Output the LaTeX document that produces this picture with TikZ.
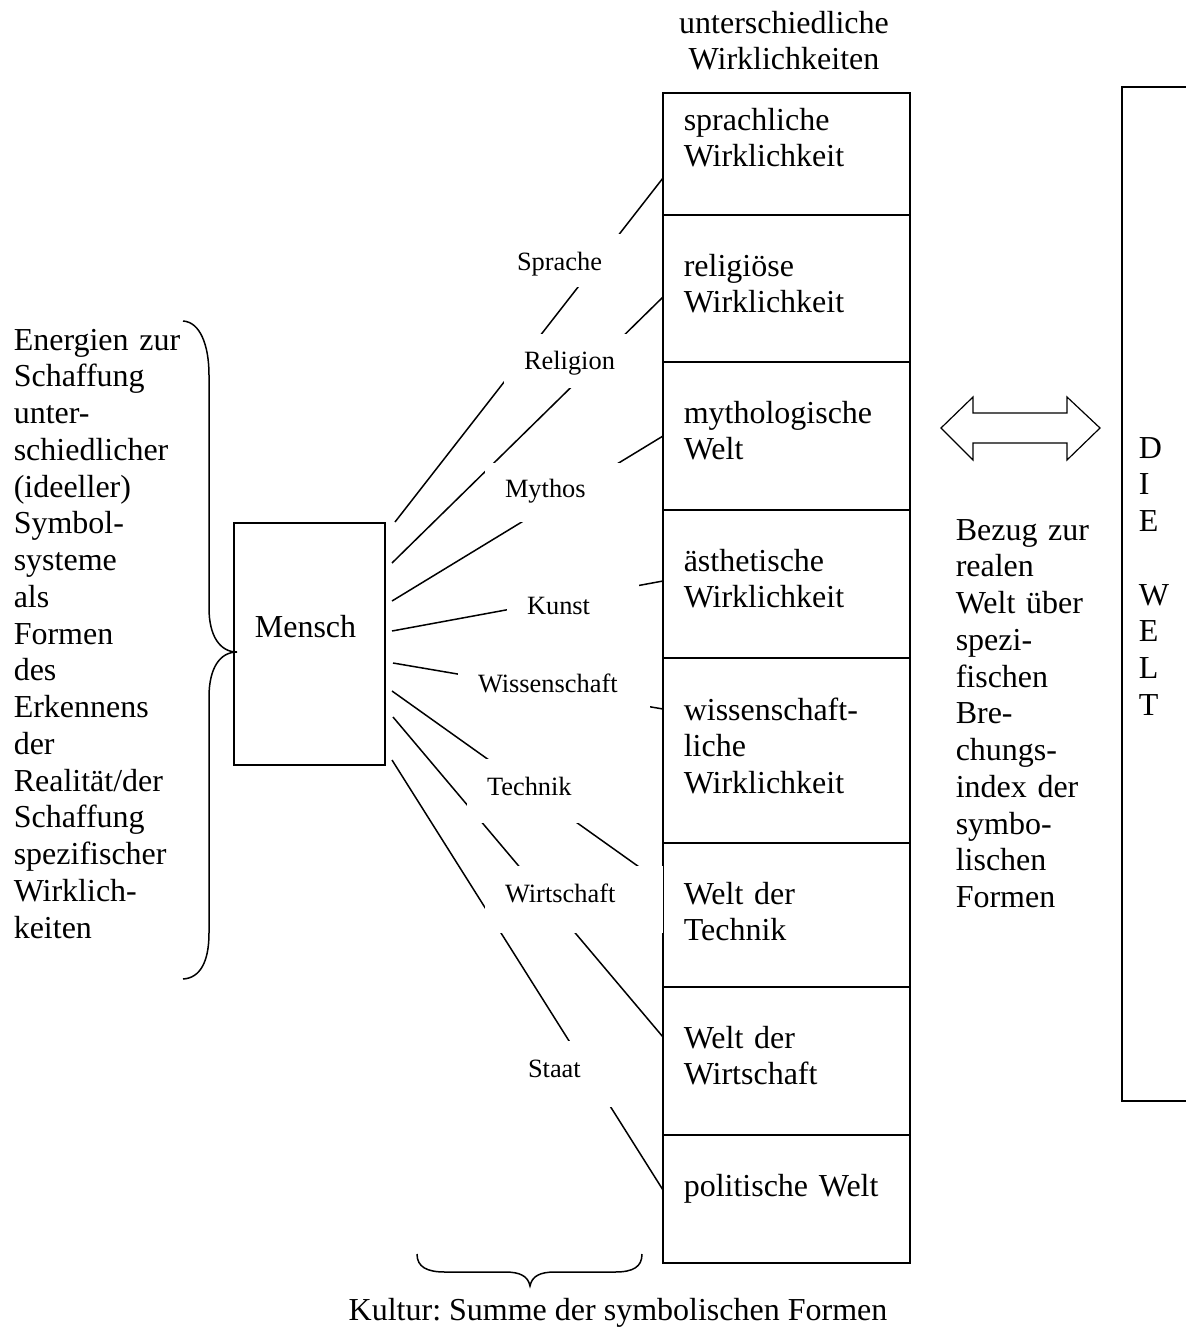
\documentclass[tikz,border=0pt]{standalone}
\usepackage{fontspec}
\setmainfont{Liberation Serif}
\frenchspacing
\newcommand\bigtext{\fontsize{32pt}{36.75pt}\selectfont}
\newcommand\smalltext{\fontsize{26.4pt}{30pt}\selectfont}

\begin{document}
\begin{tikzpicture}[x=1pt,y=-1pt,
  line width=1.5pt,
  rowbox/.style={draw, inner sep=0pt, outer sep=0pt, anchor=north west, minimum width=247pt},
  celltext/.style={anchor=base west, align=left, text width=220pt, inner sep=0pt, font=\bigtext},
  plaintext/.style={inner sep=0pt, font=\bigtext},
  formlabel/.style={fill=white, inner sep=0pt, outer sep=0pt, anchor=north west,
    text depth=0pt, align=left, font=\smalltext},
  ray/.style={line width=1.5pt},
  brace/.style={line width=1.5pt},
]
\useasboundingbox (0,0) rectangle (1186,1328);

% heading of the column
\node[plaintext, anchor=base, align=center, text width=300pt] (head) at (784,33) {unterschiedliche\\Wirklichkeiten};

% column of realities
\node[rowbox, minimum height=122pt] (r1) at (663,93) {};
\node[rowbox, minimum height=147pt] (r2) at (663,215) {};
\node[rowbox, minimum height=148pt] (r3) at (663,362) {};
\node[rowbox, minimum height=148pt] (r4) at (663,510) {};
\node[rowbox, minimum height=185pt] (r5) at (663,658) {};
\node[rowbox, minimum height=144pt] (r6) at (663,843) {};
\node[rowbox, minimum height=148pt] (r7) at (663,987) {};
\node[rowbox, minimum height=128pt] (r8) at (663,1135) {};

\node[celltext] (t1) at (683,130) {sprachliche\\Wirklichkeit};
\node[celltext] (t2) at (683,276) {religiöse\\Wirklichkeit};
\node[celltext] (t3) at (683,423) {mythologische\\Welt};
\node[celltext] (t4) at (683,571) {ästhetische\\Wirklichkeit};
\node[celltext] (t5) at (683,720) {wissenschaft-\\liche\\Wirklichkeit};
\node[celltext] (t6) at (683,904) {Welt der\\Technik};
\node[celltext] (t7) at (683,1048) {Welt der\\Wirtschaft};
\node[celltext] (t8) at (683,1196) {politische Welt};

% the human being
\node[draw, inner sep=0pt, outer sep=0pt, anchor=north west,
  minimum width=151pt, minimum height=242pt] (mensch) at (234,523) {};
\node[plaintext, anchor=base] (menschtext) at (305.5,637) {Mensch};

% symbolic forms leading from the human being to the realities
\draw[ray] ([shift={(10,-122)}]mensch.east) -- ([shift={(0,24)}]r1.west);
\draw[ray] ([shift={(7,-81)}]mensch.east) -- ([shift={(0,8.5)}]r2.west);
\draw[ray] ([shift={(7,-43)}]mensch.east) -- (r3.west);
\draw[ray] ([shift={(7,-13)}]mensch.east) -- ([shift={(0,-3)}]r4.west);
\draw[ray] ([shift={(8,19)}]mensch.east) -- ([shift={(0,-41.5)}]r5.west);
\draw[ray] ([shift={(7,47)}]mensch.east) -- ([shift={(0,-31)}]r6.west);
\draw[ray] ([shift={(8,73)}]mensch.east) -- ([shift={(0,-24)}]r7.west);
\draw[ray] ([shift={(7,116)}]mensch.east) -- ([shift={(0,-9)}]r8.west);

% names of the forms, on white so that they break the rays
\node[formlabel, text width=125pt, minimum height=53pt, text height=19pt] (lsprache) at (497,234) {\hspace*{20pt}Sprache};
\node[formlabel, text width=124pt, minimum height=54pt, text height=16pt] (lreligion) at (504,334) {\hspace*{20pt}Religion};
\node[formlabel, text width=135pt, minimum height=59pt, text height=9pt] (lmythos) at (485,463) {\hspace*{20pt}Mythos};
\node[formlabel, text width=132pt, minimum height=55pt, text height=17pt] (lkunst) at (507,578) {\hspace*{20pt}Kunst};
\node[formlabel, text width=192pt, minimum height=60pt, text height=14pt] (lwissenschaft) at (458,655) {\hspace*{20pt}Wissenschaft};
\node[formlabel, text width=133pt, minimum height=64pt, text height=8pt] (ltechnik) at (467,759) {\hspace*{20pt}Technik};
\node[formlabel, text width=178pt, minimum height=67pt, text height=5pt] (lwirtschaft) at (485,866) {\hspace*{20pt}Wirtschaft};
\node[formlabel, text width=122pt, minimum height=66pt, text height=6pt] (lstaat) at (508,1041) {\hspace*{20pt}Staat};

% left brace and its text
\draw[brace] (183,321) .. controls (200,322) and (209,345) .. (209,375)
  -- (209,608) .. controls (209,636) and (220,652) .. (237,652)
  .. controls (220,652) and (209,668) .. (209,697)
  -- (209,933) .. controls (209,962) and (200,978) .. (183,979);
\node[plaintext, anchor=base west, align=left, text width=172pt] (energien) at (13,350)
  {Energien zur\\Schaffung\\unter-\\schiedlicher\\(ideeller)\\Symbol-\\systeme\\als\\Formen\\des\\Erkennens\\der\\Realität/der\\Schaffung\\spezifischer\\Wirklich-\\keiten};

% bottom brace and its text
\draw[brace] (417,1254) .. controls (417,1267) and (427,1272) .. (445,1272)
  -- (505,1272) .. controls (520,1272) and (528,1276) .. (530,1286)
  .. controls (532,1276) and (540,1272) .. (555,1272)
  -- (615,1272) .. controls (633,1272) and (642,1267) .. (642,1254);
\node[plaintext, anchor=base] (kultur) at (618,1320) {Kultur: Summe der symbolischen Formen};

% block arrow between the realities and the world
\draw[line width=1.2pt] (941,428) -- (973,397) -- (973,413) -- (1067,413) -- (1067,397)
  -- (1100,428) -- (1067,460) -- (1067,443) -- (973,443) -- (973,460) -- cycle;

\node[plaintext, anchor=base west, align=left, text width=132pt] (bezug) at (955,540)
  {\makebox[132pt][s]{Bezug zur}\\realen\\\makebox[132pt][s]{Welt über}\\spezi-\\fischen\\Bre-\\chungs-\\\makebox[132pt][s]{index der}\\symbo-\\lischen\\Formen};

% the world
\node[draw, inner sep=0pt, outer sep=0pt, anchor=north west,
  minimum width=130pt, minimum height=1014pt] (welt) at (1122,87) {};
\node[plaintext, anchor=base west, align=left, text width=40pt] (weltletters) at (1138,458) {D\\I\\E\\\mbox{}\\W\\E\\L\\T};
\end{tikzpicture}
\end{document}
